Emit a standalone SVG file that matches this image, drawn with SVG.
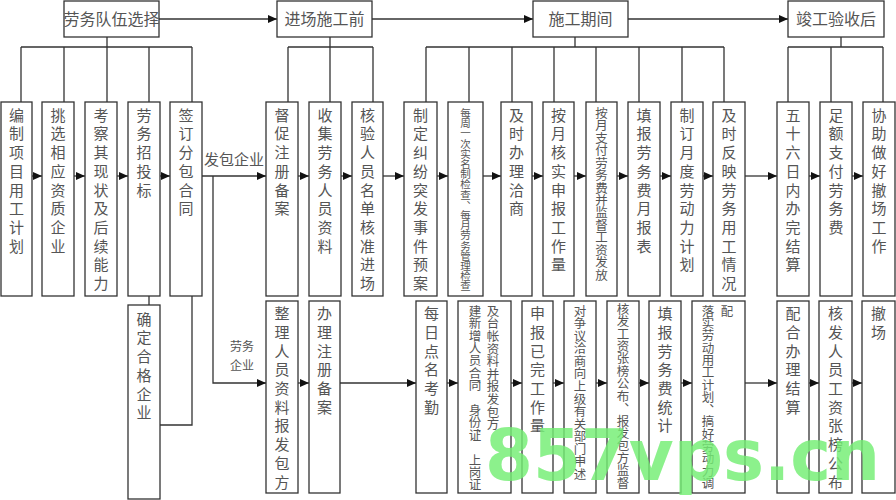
<svg xmlns="http://www.w3.org/2000/svg" width="896" height="500" viewBox="0 0 896 500">
<style>
.bg{fill:#fff}
.box{fill:#fff;stroke:#333;stroke-width:1.3}
.c{font-family:"Noto Sans CJK SC","Noto Sans CJK JP",sans-serif;fill:#555;font-size:15px;text-anchor:middle}
.s105{font-size:10.5px}
.s125{font-size:12.5px}
.h{font-family:"Noto Sans CJK SC","Noto Sans CJK JP",sans-serif;fill:#555;font-size:16px;text-anchor:middle}
.lb{font-family:"Noto Sans CJK SC","Noto Sans CJK JP",sans-serif;fill:#555;text-anchor:middle}
.ln{stroke:#333;stroke-width:1.3;fill:none}
.ar{marker-end:url(#a)}
.wm{font-family:"DejaVu Sans",sans-serif;font-weight:bold;font-size:72px;fill:#74ee74;opacity:0.82}
</style>
<defs>
<marker id="a" markerUnits="userSpaceOnUse" markerWidth="9" markerHeight="8" refX="9" refY="4" orient="auto">
<path d="M0,0 L9,4 L0,8 z" fill="#111"/>
</marker>
</defs>
<rect class="bg" x="0" y="0" width="896" height="500"/>

<g id="connectors">
<path class="ln ar" d="M159 19 H277"/>
<path class="ln ar" d="M372 19 H533"/>
<path class="ln ar" d="M628 19 H788"/>
<path class="ln" d="M107 37 V47 M330 37 V47 M575 37 V47 M841 37 V47"/>
<path class="ln" d="M21 47 H192 M288 47 H373 M426 47 H724 M788 47 H883"/>
<path class="ln" d="M21 47 V102 M64 47 V102 M107 47 V102 M149 47 V102 M192 47 V102 M288 47 V102 M330 47 V102 M373 47 V102 M426 47 V102 M469 47 V102 M512 47 V102 M554 47 V102 M596 47 V102 M639 47 V102 M682 47 V102 M724 47 V102 M788 47 V102 M831 47 V102 M883 47 V102"/>
<path class="ln ar" d="M32 176 H42"/>
<path class="ln ar" d="M74 176 H85"/>
<path class="ln ar" d="M117 176 H128"/>
<path class="ln ar" d="M160 176 H170"/>
<path class="ln ar" d="M202 176 H266"/>
<path class="ln ar" d="M298 176 H309"/>
<path class="ln ar" d="M341 176 H352"/>
<path class="ln ar" d="M383 176 H404"/>
<path class="ln ar" d="M437 176 H448"/>
<path class="ln ar" d="M483 176 H501"/>
<path class="ln ar" d="M532 176 H543"/>
<path class="ln ar" d="M574 176 H586"/>
<path class="ln ar" d="M617 176 H628"/>
<path class="ln ar" d="M660 176 H671"/>
<path class="ln ar" d="M703 176 H713"/>
<path class="ln ar" d="M745 176 H777"/>
<path class="ln ar" d="M809 176 H820"/>
<path class="ln ar" d="M852 176 H863"/>
<path class="ln ar" d="M213 176 V383 H266"/>
<path class="ln" d="M149 296 V305"/>
<path class="ln" d="M192 296 V425 H160"/>
<path class="ln ar" d="M298 383 H309"/>
<path class="ln ar" d="M340 383 H416"/>
<path class="ln ar" d="M447 383 H458"/>
<path class="ln ar" d="M511 383 H522"/>
<path class="ln ar" d="M553 383 H564"/>
<path class="ln ar" d="M596 383 H607"/>
<path class="ln ar" d="M639 383 H649"/>
<path class="ln ar" d="M681 383 H692"/>
<path class="ln ar" d="M745 383 H777"/>
<path class="ln ar" d="M809 383 H819"/>
<path class="ln ar" d="M852 383 H862"/>
<text class="lb" x="234" y="165" font-size="15">发包企业</text>
<text class="lb" x="242" y="351" font-size="12">劳务</text>
<text class="lb" x="242" y="370" font-size="12">企业</text>
</g>

<g id="h1"><rect class="box" x="64" y="1" width="95" height="36"/><text class="h" x="111.5" y="24.5">劳务队伍选择</text></g>
<g id="h2"><rect class="box" x="277" y="1" width="95" height="36"/><text class="h" x="324.5" y="24.5">进场施工前</text></g>
<g id="h3"><rect class="box" x="533" y="1" width="95" height="36"/><text class="h" x="580.5" y="24.5">施工期间</text></g>
<g id="h4"><rect class="box" x="788" y="1" width="96" height="36"/><text class="h" x="836" y="24.5">竣工验收后</text></g>

<g id="n1"><rect class="box" x="1" y="102" width="31" height="194"/><text class="c" x="16.5 16.5 16.5 16.5 16.5 16.5 16.5 16.5" y="120.7 139.4 158.1 176.8 195.5 214.2 232.9 251.6">编制项目用工计划</text></g>
<g id="n2"><rect class="box" x="42" y="102" width="32" height="194"/><text class="c" x="58 58 58 58 58 58 58 58" y="120.7 139.4 158.1 176.8 195.5 214.2 232.9 251.6">挑选相应资质企业</text></g>
<g id="n3"><rect class="box" x="85" y="102" width="32" height="194"/><text class="c" x="101 101 101 101 101 101 101 101 101 101" y="120.7 139.4 158.1 176.8 195.5 214.2 232.9 251.6 270.3 289">考察其现状及后续能力</text></g>
<g id="n4"><rect class="box" x="128" y="102" width="32" height="194"/><text class="c" x="144 144 144 144 144" y="120.7 139.4 158.1 176.8 195.5">劳务招投标</text></g>
<g id="n5"><rect class="box" x="170" y="102" width="32" height="194"/><text class="c" x="186 186 186 186 186 186" y="120.7 139.4 158.1 176.8 195.5 214.2">签订分包合同</text></g>
<g id="n6"><rect class="box" x="266" y="102" width="32" height="194"/><text class="c" x="282 282 282 282 282 282" y="120.7 139.4 158.1 176.8 195.5 214.2">督促注册备案</text></g>
<g id="n7"><rect class="box" x="309" y="102" width="32" height="194"/><text class="c" x="325 325 325 325 325 325 325 325" y="120.7 139.4 158.1 176.8 195.5 214.2 232.9 251.6">收集劳务人员资料</text></g>
<g id="n8"><rect class="box" x="352" y="102" width="31" height="194"/><text class="c" x="367.5 367.5 367.5 367.5 367.5 367.5 367.5 367.5 367.5 367.5" y="120.7 139.4 158.1 176.8 195.5 214.2 232.9 251.6 270.3 289">核验人员名单核准进场</text></g>
<g id="n9"><rect class="box" x="404" y="102" width="33" height="194"/><text class="c" x="420.5 420.5 420.5 420.5 420.5 420.5 420.5 420.5 420.5 420.5" y="120.7 139.4 158.1 176.8 195.5 214.2 232.9 251.6 270.3 289">制定纠纷突发事件预案</text></g>
<g id="n10"><rect class="box" x="448" y="102" width="35" height="194"/><text class="c s105" x="465.5 465.5 465.5 465.5 465.5 465.5 465.5 465.5 465.5 471.8 465.5 465.5 465.5 465.5 465.5 465.5 465.5 465.5" y="117 127.2 137.4 147.6 157.8 168 178.2 188.4 198.6 202.5 219 229.2 239.4 249.6 259.8 270 280.2 290.4">每周一次实名制检查、每月劳务管理检查</text></g>
<g id="n11"><rect class="box" x="501" y="102" width="31" height="194"/><text class="c" x="516.5 516.5 516.5 516.5 516.5 516.5" y="120.7 139.4 158.1 176.8 195.5 214.2">及时办理洽商</text></g>
<g id="n12"><rect class="box" x="543" y="102" width="31" height="194"/><text class="c" x="558.5 558.5 558.5 558.5 558.5 558.5 558.5 558.5 558.5" y="120.7 139.4 158.1 176.8 195.5 214.2 232.9 251.6 270.3">按月核实申报工作量</text></g>
<g id="n13"><rect class="box" x="586" y="102" width="31" height="194"/><text class="c s125" x="601.5 601.5 601.5 601.5 601.5 601.5 601.5 601.5 601.5 601.5 601.5 601.5 601.5 601.5" y="117.75 130.21 142.67 155.13 167.59 180.05 192.51 204.97 217.43 229.89 242.35 254.81 267.27 279.73">按月支付劳务费并监督工资发放</text></g>
<g id="n14"><rect class="box" x="628" y="102" width="32" height="194"/><text class="c" x="644 644 644 644 644 644 644 644" y="120.7 139.4 158.1 176.8 195.5 214.2 232.9 251.6">填报劳务费月报表</text></g>
<g id="n15"><rect class="box" x="671" y="102" width="32" height="194"/><text class="c" x="687 687 687 687 687 687 687 687 687" y="120.7 139.4 158.1 176.8 195.5 214.2 232.9 251.6 270.3">制订月度劳动力计划</text></g>
<g id="n16"><rect class="box" x="713" y="102" width="32" height="194"/><text class="c" x="729 729 729 729 729 729 729 729 729 729" y="120.7 139.4 158.1 176.8 195.5 214.2 232.9 251.6 270.3 289">及时反映劳务用工情况</text></g>
<g id="n17"><rect class="box" x="777" y="102" width="32" height="194"/><text class="c" x="793 793 793 793 793 793 793 793 793" y="120.7 139.4 158.1 176.8 195.5 214.2 232.9 251.6 270.3">五十六日内办完结算</text></g>
<g id="n18"><rect class="box" x="820" y="102" width="32" height="194"/><text class="c" x="836 836 836 836 836 836 836" y="120.7 139.4 158.1 176.8 195.5 214.2 232.9">足额支付劳务费</text></g>
<g id="n19"><rect class="box" x="863" y="102" width="32" height="194"/><text class="c" x="879 879 879 879 879 879 879 879" y="120.7 139.4 158.1 176.8 195.5 214.2 232.9 251.6">协助做好撤场工作</text></g>

<g id="m1"><rect class="box" x="128" y="305" width="32" height="194"/><text class="c" x="144 144 144 144 144 144" y="324.7 343.4 362.1 380.8 399.5 418.2">确定合格企业</text></g>
<g id="m2"><rect class="box" x="266" y="301" width="32" height="192"/><text class="c" x="282 282 282 282 282 282 282 282 282 282" y="319.2 337.9 356.6 375.3 394 412.7 431.4 450.1 468.8 487.5">整理人员资料报发包方</text></g>
<g id="m3"><rect class="box" x="309" y="301" width="31" height="192"/><text class="c" x="324.5 324.5 324.5 324.5 324.5 324.5" y="319.2 337.9 356.6 375.3 394 412.7">办理注册备案</text></g>
<g id="m4"><rect class="box" x="416" y="301" width="31" height="192"/><text class="c" x="431.5 431.5 431.5 431.5 431.5 431.5" y="319.2 337.9 356.6 375.3 394 412.7">每日点名考勤</text></g>
<g id="m5"><rect class="box" x="458" y="301" width="53" height="192"/><text class="c s125" x="493 493 493 493 493 493 493 493 493 493" y="315.75 328.35 340.95 353.55 366.15 378.75 391.35 403.95 416.55 429.15">及台帐资料并报发包方</text><text class="c s125" x="475 475 475 475 475 475 475 482.5 475 475 475 482.5 475 475 475" y="315.75 328.15 340.55 352.95 365.35 377.75 390.15 382.65 414.95 427.35 439.75 432.25 464.55 476.95 489.35">建新增人员合同、身份证、上岗证</text></g>
<g id="m6"><rect class="box" x="522" y="301" width="31" height="192"/><text class="c" x="537.5 537.5 537.5 537.5 537.5 537.5 537.5" y="319.2 337.9 356.6 375.3 394 412.7 431.4">申报已完工作量</text></g>
<g id="m7"><rect class="box" x="564" y="301" width="32" height="192"/><text class="c s125" x="580 580 580 580 580 580 580 580 580 580 580 580 580 580" y="315.75 328.29 340.83 353.37 365.91 378.45 390.99 403.53 416.07 428.61 441.15 453.69 466.23 478.77">对争议洽商向上级有关部门申述</text></g>
<g id="m8"><rect class="box" x="607" y="301" width="32" height="192"/><text class="c s125" x="623 623 623 623 623 623 623 623 630.5 623 623 623 623 623 623" y="313.75 326.18 338.61 351.04 363.47 375.9 388.33 400.76 405.7 425.62 438.05 450.48 462.91 475.34 487.77">核发工资张榜公布、报发包方监督</text></g>
<g id="m9"><rect class="box" x="649" y="301" width="32" height="192"/><text class="c" x="665 665 665 665 665 665 665" y="319.2 337.9 356.6 375.3 394 412.7 431.4">填报劳务费统计</text></g>
<g id="m10"><rect class="box" x="692" y="301" width="53" height="192"/><text class="c s125" x="708 708 708 708 708 708 708 708 715.5 708 708 708 708 708 708" y="315.75 328.05 340.35 352.65 364.95 377.25 389.55 401.85 406.65 426.45 438.75 451.05 463.35 475.65 487.95">落实劳动用工计划、搞好劳动力调</text><text class="c s125" x="727" y="315.75">配</text></g>
<g id="m11"><rect class="box" x="777" y="301" width="32" height="192"/><text class="c" x="793 793 793 793 793 793" y="319.2 337.9 356.6 375.3 394 412.7">配合办理结算</text></g>
<g id="m12"><rect class="box" x="819" y="301" width="33" height="192"/><text class="c" x="835.5 835.5 835.5 835.5 835.5 835.5 835.5 835.5 835.5 835.5" y="319.2 337.9 356.6 375.3 394 412.7 431.4 450.1 468.8 487.5">核发人员工资张榜公布</text></g>
<g id="m13"><rect class="box" x="862" y="301" width="33" height="192"/><text class="c" x="878.5 878.5" y="319.2 337.9">撤场</text></g>

<text class="wm" x="485" y="480" textLength="395" lengthAdjust="spacingAndGlyphs">857vps.cn</text>
</svg>
